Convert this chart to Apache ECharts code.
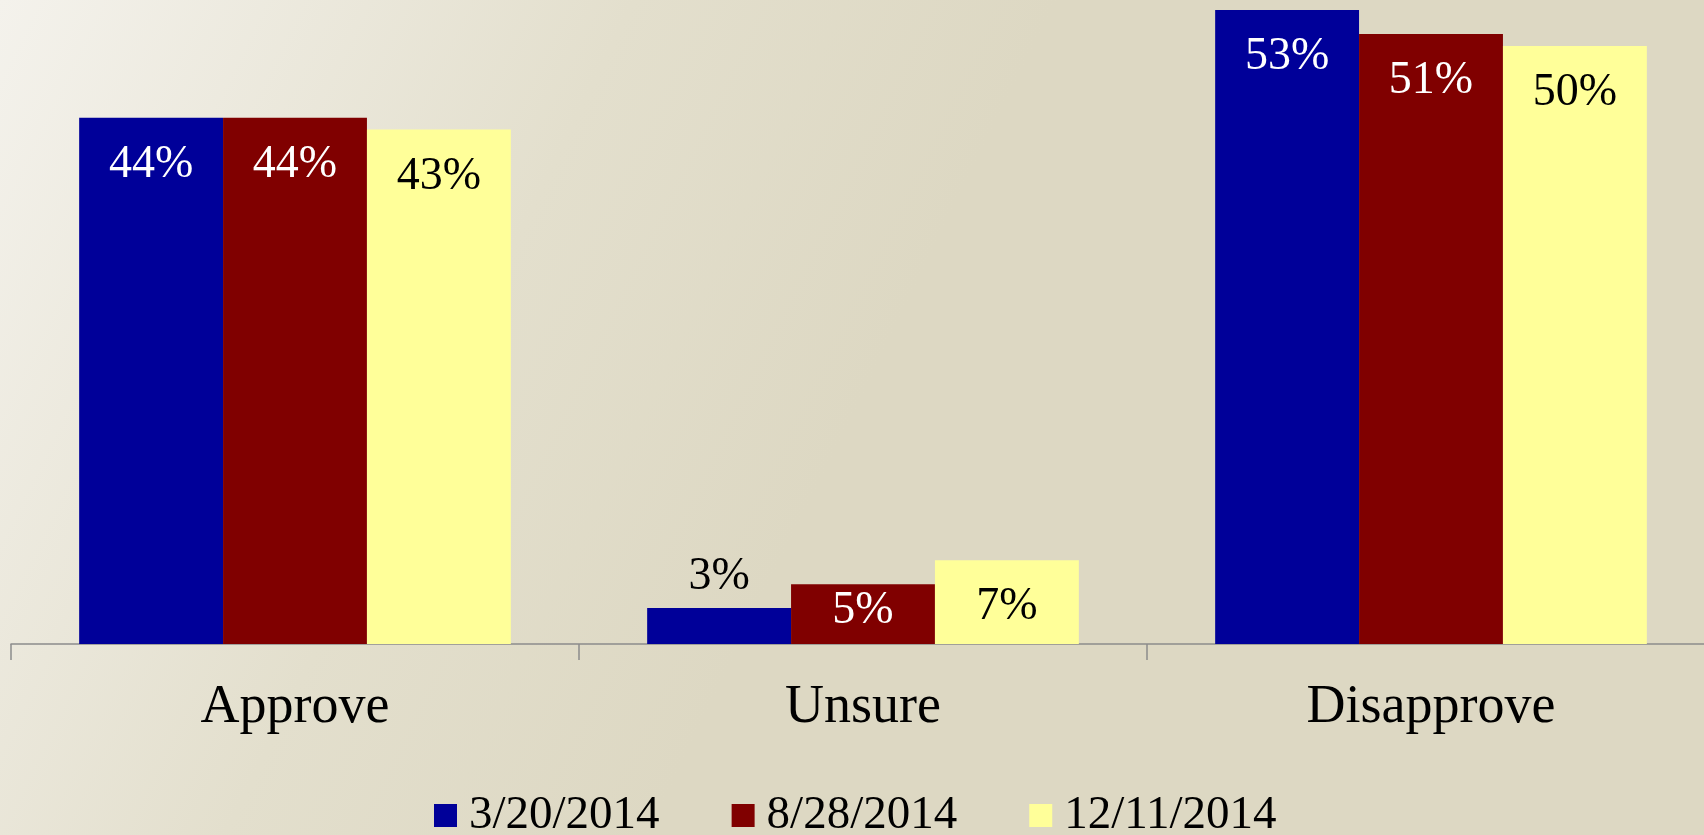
<!DOCTYPE html>
<html>
<head>
<meta charset="utf-8">
<script src="https://cdn.jsdelivr.net/npm/echarts@6/dist/echarts.min.js"></script>
<style>
html,body{margin:0;padding:0;}
#chart{width:1704px;height:835px;}
</style>
</head>
<body>
<div id="chart"></div>
<script>
const categories = ['Approve', 'Unsure', 'Disapprove'];
const seriesNames = ['3/20/2014', '8/28/2014', '12/11/2014'];
const values1 = [44, 3, 53];
const values2 = [44, 5, 51];
const values3 = [43, 7, 50];

const FONT = '"Liberation Serif", "Times New Roman", serif';
const colors = ['#000099', '#800000', '#FFFF99'];
const labelColors = ['#ffffff', '#ffffff', '#000000'];

function makeData(vals, si) {
  return vals.map(function (v, i) {
    const d = { value: v };
    if (si === 0 && i === 1) {
      d.label = { position: 'top', distance: 8, color: '#000000' };
    }
    if (si === 1 && i === 1) {
      d.label = { position: 'inside', offset: [0, -3] };
    }
    return d;
  });
}

const chart = echarts.init(document.getElementById('chart'));
chart.setOption({
  animation: false,
  backgroundColor: {
    type: 'linear', x: 0, y: 0, x2: 1, y2: 1,
    colorStops: [
      { offset: 0, color: '#f4f2ec' },
      { offset: 0.3, color: '#e3dfcd' },
      { offset: 0.5, color: '#ddd8c3' },
      { offset: 1, color: '#ddd8c3' }
    ]
  },
  grid: { left: 11, top: 10, width: 1704, height: 634, outerBoundsMode: 'none', containLabel: false },
  legend: {
    left: 434, top: 792, padding: 0,
    itemWidth: 23, itemHeight: 23, itemGap: 72,
    icon: 'rect',
    textStyle: { fontFamily: FONT, fontSize: 47, color: '#000000', padding: [0, 0, 0, 7] },
    data: seriesNames
  },
  xAxis: {
    type: 'category',
    data: categories,
    axisLine: { lineStyle: { color: '#8c8c8c', width: 1.5 } },
    axisTick: { show: true, length: 16, alignWithLabel: false, lineStyle: { color: '#8c8c8c', width: 1.5 } },
    axisLabel: { fontFamily: FONT, fontSize: 54, color: '#000000', margin: 37 }
  },
  yAxis: {
    type: 'value', min: 0, max: 53,
    show: false,
    splitLine: { show: false }
  },
  series: [values1, values2, values3].map(function (vals, si) {
    return {
      name: seriesNames[si],
      type: 'bar',
      barGap: '0%',
      barCategoryGap: '24%',
      itemStyle: { color: colors[si] },
      label: {
        show: true,
        position: 'insideTop',
        distance: 24,
        formatter: '{c}%',
        fontFamily: FONT,
        fontSize: 46,
        color: labelColors[si]
      },
      data: makeData(vals, si)
    };
  })
});
</script>
</body>
</html>
